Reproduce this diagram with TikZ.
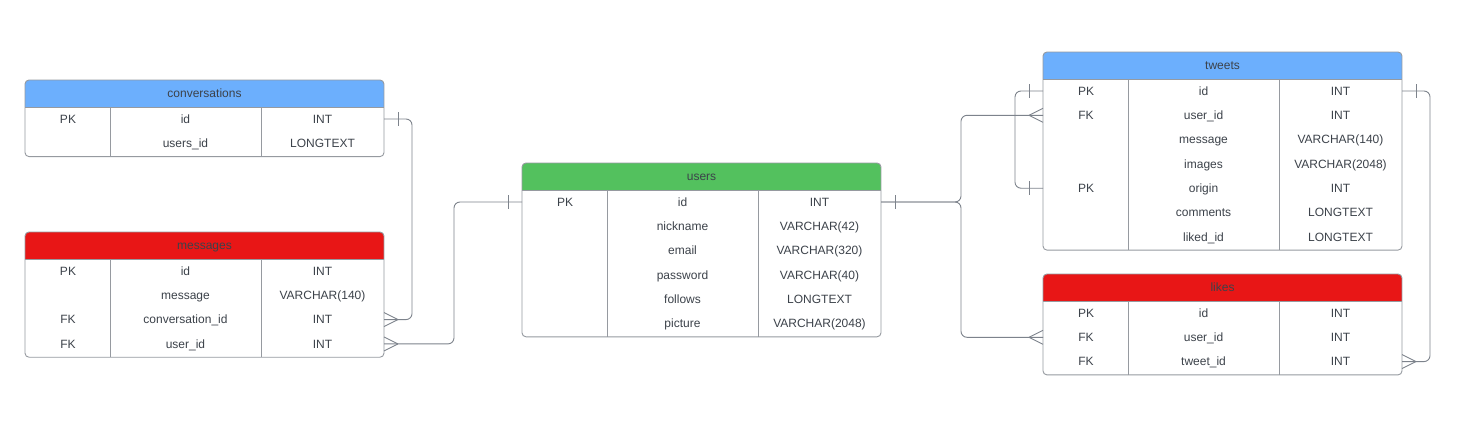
\documentclass[tikz,border=0pt]{standalone}
\usepackage{fontspec}
\setmainfont{Liberation Sans}
\usetikzlibrary{calc}
\definecolor{hblue}{RGB}{108,175,253}
\definecolor{hgreen}{RGB}{83,193,94}
\definecolor{hred}{RGB}{232,22,22}
\definecolor{tgray}{RGB}{60,66,74}
\definecolor{bgray}{RGB}{150,154,160}
\definecolor{lgray}{RGB}{125,131,140}
\tikzset{
  celltext/.style={text=tgray,font=\fontsize{12}{14}\selectfont,inner sep=0pt,
    text height=8.6pt,text depth=0pt,anchor=center},
  tabframe/.style={draw=bgray,line width=0.9pt,rounded corners=4pt},
  divider/.style={draw=bgray,line width=0.9pt},
  conn/.style={draw=lgray,line width=0.9pt,rounded corners=6pt},
  markline/.style={draw=lgray,line width=0.9pt},
}
% #1 name, #2 x, #3 top, #4 title, #5 colour, #6 rows, #7 list
\newcommand\ertab[7]{%
  \pgfmathsetmacro\btm{#3+27+#6*24.3+1}%
  \begin{scope}
    \clip[rounded corners=4pt] (#2,#3) rectangle (#2+359,\btm);
    \fill[#5] (#2,#3) rectangle (#2+359,#3+27);
  \end{scope}
  \node[celltext] (#1-title) at (#2+179.5,#3+13.5) {#4};
  \draw[divider] (#2,#3+27) -- (#2+359,#3+27);
  \draw[divider] (#2+85,#3+27) -- (#2+85,\btm);
  \draw[divider] (#2+236,#3+27) -- (#2+236,\btm);
  \draw[tabframe] (#2,#3) rectangle (#2+359,\btm);
  \foreach \k/\f/\t [count=\i] in {#7}{%
    \pgfmathsetmacro\yy{#3+39+(\i-1)*24.3}
    \node[celltext] (#1-k\i) at (#2+43,\yy) {\k};
    \node[celltext] (#1-f\i) at (#2+160.5,\yy) {\f};
    \node[celltext] (#1-t\i) at (#2+297.5,\yy) {\t};
    \coordinate (#1-w\i) at (#2,\yy);
    \coordinate (#1-e\i) at (#2+359,\yy);
  }%
}
% crow's foot: #1 coordinate on edge, #2 direction (+1 right, -1 left)
\newcommand\crowfoot[2]{%
  \draw[markline] ($(#1)+(#2*14,0)$) -- ($(#1)+(0,-7)$);
  \draw[markline] ($(#1)+(#2*14,0)$) -- ($(#1)+(0,7)$);
}
\newcommand\onebar[2]{%
  \draw[markline] ($(#1)+(#2*14,-7)$) -- ($(#1)+(#2*14,7)$);
}
\begin{document}
\begin{tikzpicture}[x=1pt,y=-1pt]
\useasboundingbox[fill=white] (0,0) rectangle (1468,423);

\ertab{conv}{25}{80}{conversations}{hblue}{2}{PK/id/INT, /users\_id/LONGTEXT}
\ertab{msg}{25}{232}{messages}{hred}{4}{PK/id/INT, /message/VARCHAR(140), FK/conversation\_id/INT, FK/user\_id/INT}
\ertab{users}{522}{163}{users}{hgreen}{6}{PK/id/INT, /nickname/VARCHAR(42), /email/VARCHAR(320), /password/VARCHAR(40), /follows/LONGTEXT, /picture/VARCHAR(2048)}
\ertab{tweets}{1043}{52}{tweets}{hblue}{7}{PK/id/INT, FK/user\_id/INT, /message/VARCHAR(140), /images/VARCHAR(2048), PK/origin/INT, /comments/LONGTEXT, /liked\_id/LONGTEXT}
\ertab{likes}{1043}{274}{likes}{hred}{3}{PK/id/INT, FK/user\_id/INT, FK/tweet\_id/INT}

% conversations -> messages
\draw[conn] (conv-e1) -- ++(28,0) |- (msg-e3);
\onebar{conv-e1}{1}
\crowfoot{msg-e3}{1}
% users -> messages
\draw[conn] (users-w1) -- ++(-68,0) |- (msg-e4);
\onebar{users-w1}{-1}
\crowfoot{msg-e4}{1}
% users -> tweets, likes
\draw[conn] (users-e1) -- ++(80,0) |- (tweets-w2);
\draw[conn] (users-e1) -- ++(80,0) |- (likes-w2);
\onebar{users-e1}{1}
\crowfoot{tweets-w2}{-1}
\crowfoot{likes-w2}{-1}
% tweets self
\draw[conn] (tweets-w1) -- ++(-28,0) |- (tweets-w5);
\onebar{tweets-w1}{-1}
\onebar{tweets-w5}{-1}
% tweets -> likes
\draw[conn] (tweets-e1) -- ++(28,0) |- (likes-e3);
\onebar{tweets-e1}{1}
\crowfoot{likes-e3}{1}
\end{tikzpicture}
\end{document}
